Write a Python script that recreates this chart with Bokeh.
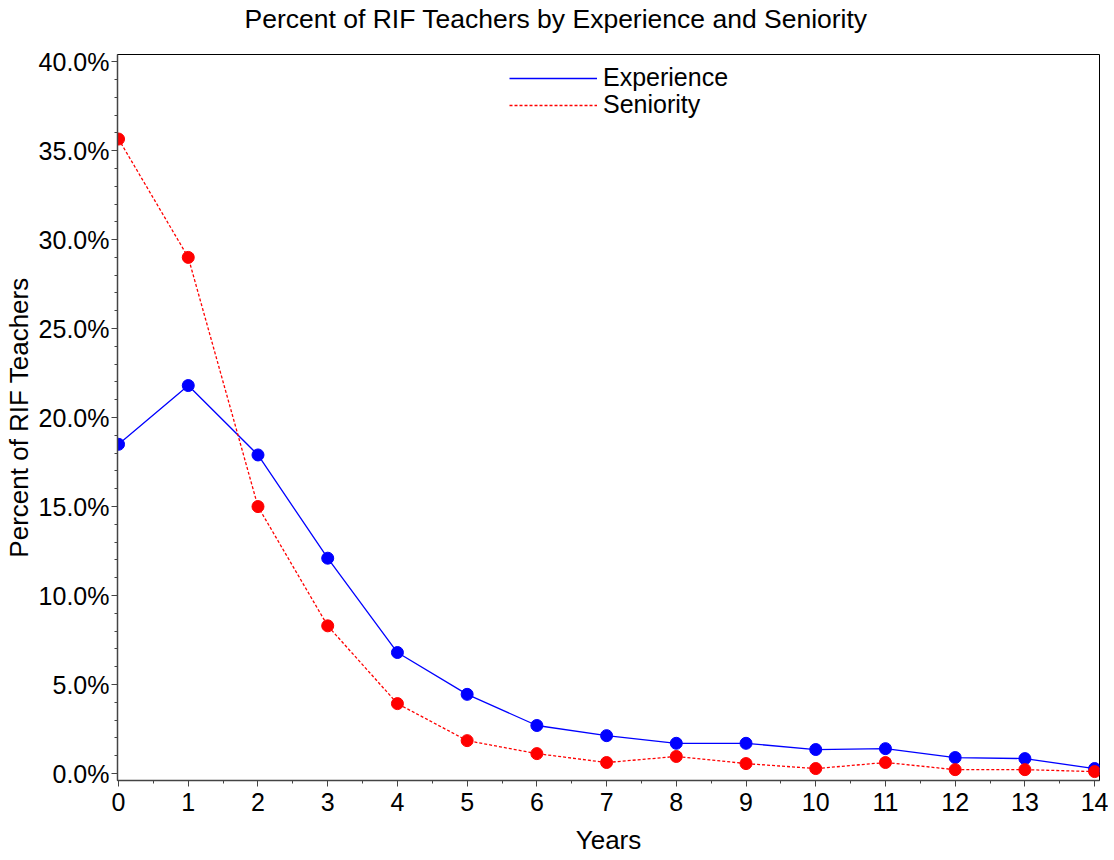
from bokeh.plotting import figure
from bokeh.models import Range1d, NumeralTickFormatter, Legend, LegendItem, FixedTicker, Title
from bokeh.embed import file_html
from bokeh.resources import INLINE

years = list(range(15))
experience = [18.5, 21.8, 17.9, 12.1, 6.8, 4.45, 2.7, 2.13, 1.7, 1.7, 1.35, 1.4, 0.9, 0.84, 0.28]
seniority = [35.65, 29.0, 15.0, 8.3, 3.93, 1.85, 1.12, 0.62, 0.96, 0.56, 0.28, 0.62, 0.22, 0.22, 0.11]
exp_frac = [v / 100 for v in experience]
sen_frac = [v / 100 for v in seniority]
title_text = "Percent of RIF Teachers by Experience and Seniority"

FONT = "Liberation Sans"

p = figure(width=1108, height=860, output_backend="svg", toolbar_location=None,
           x_range=Range1d(-0.015, 14.07), y_range=Range1d(-0.0039, 0.404),
           title=None,
           min_border_left=116, min_border_right=9, min_border_top=54, min_border_bottom=80)

main_title = Title(text=title_text, align="left", offset=127, vertical_align="top",
                   text_font=FONT, text_font_size="26.5px", text_font_style="normal",
                   text_color="black", standoff=2)
try:
    main_title.padding = dict(left=0, right=0, top=0, bottom=18)
except Exception:
    spacer = Title(text=".", text_font_size="1px", standoff=15, text_alpha=0)
    p.add_layout(spacer, "above")
p.add_layout(main_title, "above")

p.xgrid.visible = False
p.ygrid.visible = False
p.outline_line_color = "black"
p.outline_line_width = 1

l1 = p.line(years, exp_frac, line_color="blue", line_width=1.3)
p.scatter(years, exp_frac, size=12, fill_color="blue", line_color="blue")
l2 = p.line(years, sen_frac, line_color="red", line_width=1.3, line_dash="3 2")
p.scatter(years, sen_frac, size=12, fill_color="red", line_color="red")

p.xaxis.ticker = FixedTicker(ticks=years, minor_ticks=[x + 0.5 for x in range(14)])
p.yaxis.ticker = FixedTicker(ticks=[i * 0.05 for i in range(9)],
                             minor_ticks=[i * 0.01 for i in range(41)])
p.yaxis.formatter = NumeralTickFormatter(format="0.0%")

for ax in (p.xaxis[0], p.yaxis[0]):
    ax.major_label_text_font = FONT
    ax.major_label_text_font_size = "25px"
    ax.major_label_text_color = "black"
    ax.axis_label_text_font = FONT
    ax.axis_label_text_font_size = "26px"
    ax.axis_label_text_font_style = "normal"
    ax.axis_label_text_color = "black"
    ax.axis_line_color = "#444444"
    ax.axis_line_width = 1.5
    ax.major_tick_in = 0
    ax.major_tick_out = 6
    ax.minor_tick_in = 0
    ax.minor_tick_out = 3
    ax.major_tick_line_color = "#444444"
    ax.minor_tick_line_color = "#444444"

p.xaxis.axis_label = "Years"
p.yaxis.axis_label = "Percent of RIF Teachers"
p.xaxis.major_label_standoff = 6
p.xaxis.axis_label_standoff = 11
p.yaxis.major_label_standoff = 2
p.yaxis.axis_label_standoff = 2


def make_legend(label, renderer, y):
    lg = Legend(items=[LegendItem(label=label, renderers=[renderer])], location=(392, y))
    lg.border_line_color = None
    lg.background_fill_alpha = 0
    lg.padding = 0
    lg.spacing = 0
    lg.margin = 0
    lg.glyph_width = 88
    lg.glyph_height = 24
    lg.label_height = 24
    lg.label_standoff = 6
    lg.label_text_font = FONT
    lg.label_text_font_size = "25px"
    lg.label_text_color = "black"
    return lg


p.add_layout(make_legend("Experience", l1, 688))
p.add_layout(make_legend("Seniority", l2, 661))

open("out.html", "w").write(file_html(p, INLINE))
